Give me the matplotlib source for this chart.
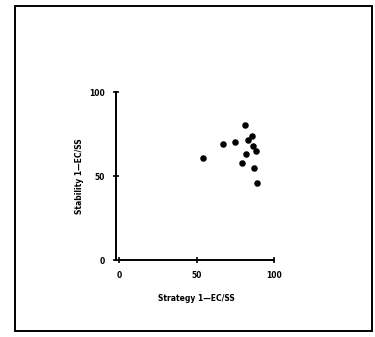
import matplotlib
matplotlib.use("Agg")
import matplotlib.pyplot as plt
from matplotlib.patches import Rectangle

strategy = [81.2, 85.9, 83.3, 74.7, 67.3, 86.2, 88.3, 81.8, 54.1, 79.4, 86.9, 88.8]
stability = [80.2, 73.7, 71.2, 70.0, 69.0, 67.8, 64.7, 62.8, 60.6, 57.6, 54.7, 45.9]
ticks = [0, 50, 100]
tick_labels = ["0", "50", "100"]

W, H = 375, 337
fig = plt.figure(figsize=(W / 100, H / 100), dpi=100)
fig.patch.set_facecolor("white")

# outer frame
fig.patches.append(Rectangle((15 / W, 1 - 331 / H), (372 - 15) / W, (331 - 6) / H,
                             transform=fig.transFigure, fill=False,
                             edgecolor="black", linewidth=1.4))

ax = fig.add_axes([119 / W, (H - 260) / H, 155 / W, 168 / H])
ax.scatter(strategy, stability, s=22, color="black", zorder=3, linewidths=0)
ax.set_xlim(0, 100)
ax.set_ylim(0, 100)
ax.set_xticks(ticks)
ax.set_xticklabels(tick_labels)
ax.set_yticks(ticks)
ax.set_yticklabels(tick_labels)
for s in ["top", "right"]:
    ax.spines[s].set_visible(False)
ax.spines["left"].set_linewidth(1.4)
ax.spines["bottom"].set_linewidth(1.4)
ax.spines["left"].set_position(("outward", 2))
ax.tick_params(direction="inout", length=4, width=1.2, labelsize=5.5, pad=6)
for lbl in ax.get_xticklabels() + ax.get_yticklabels():
    lbl.set_fontweight("bold")
ax.set_xlabel("Strategy 1\u2014EC/SS", fontsize=5.5, fontweight="bold", labelpad=10)
ax.set_ylabel("Stability 1\u2014EC/SS", fontsize=5.5, fontweight="bold", labelpad=4)

fig.savefig("out.png", dpi=100)
